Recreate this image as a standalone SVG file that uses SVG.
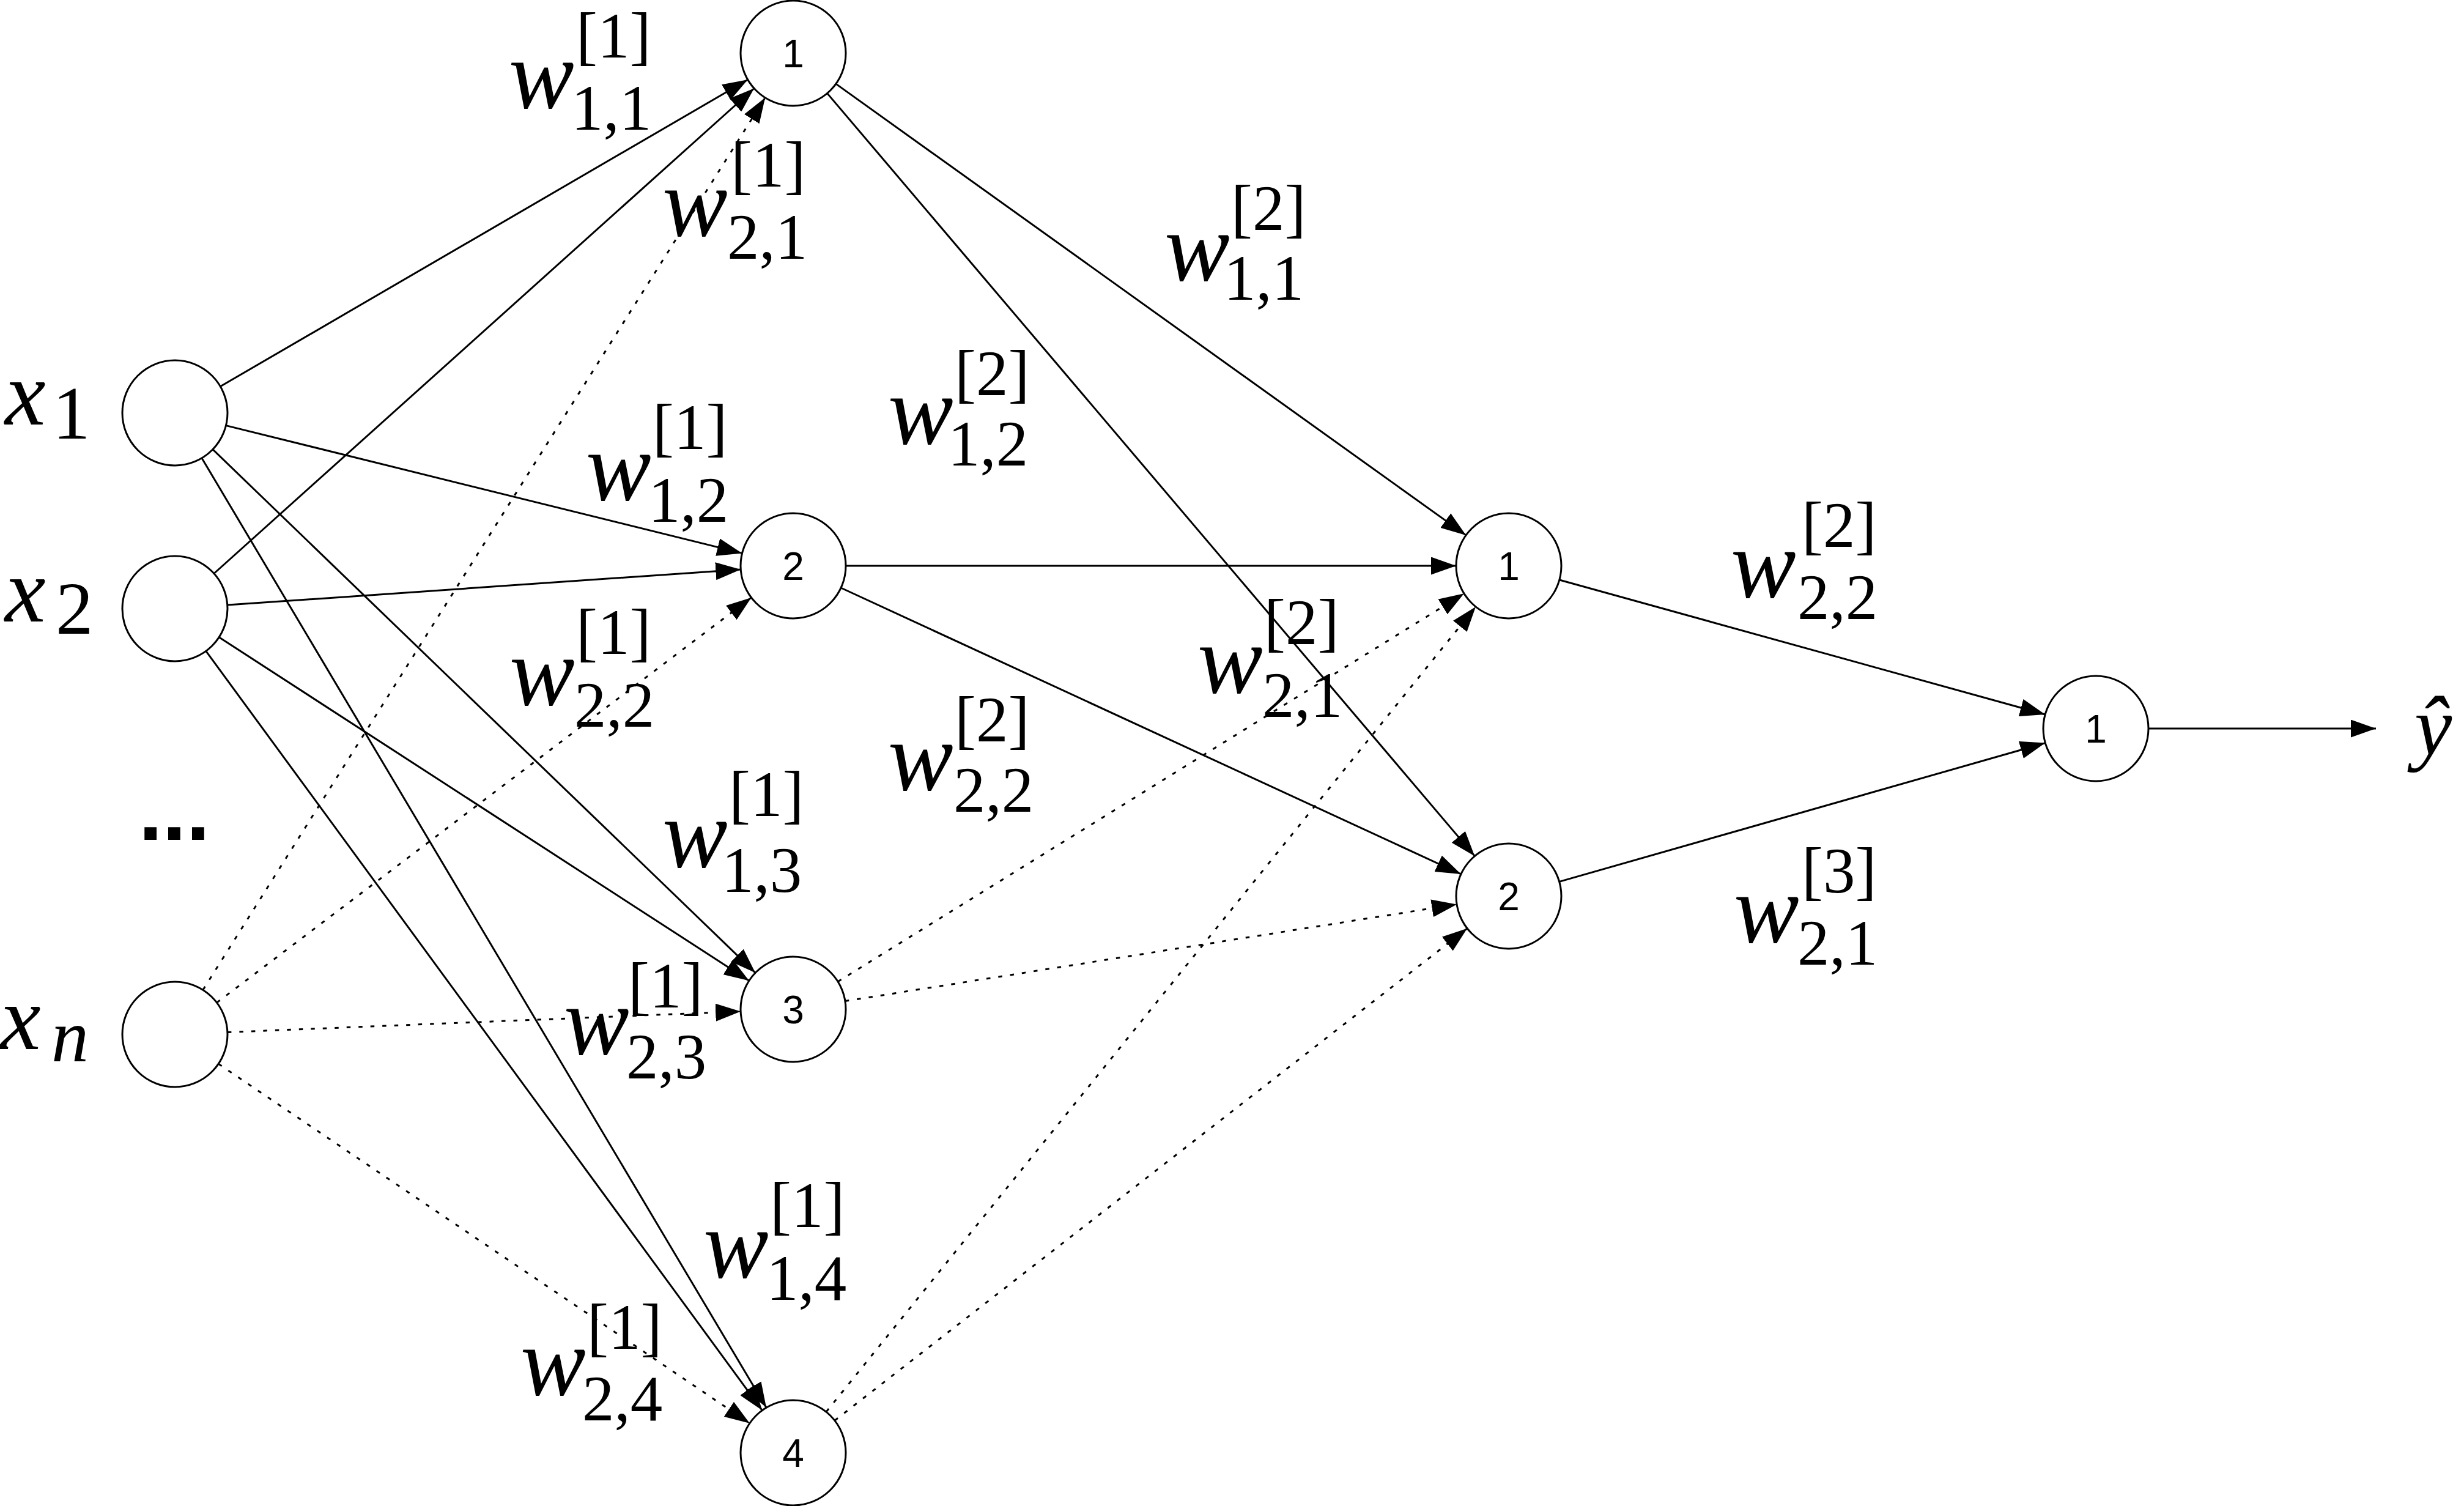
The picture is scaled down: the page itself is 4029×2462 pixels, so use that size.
<svg xmlns="http://www.w3.org/2000/svg" width="4029" height="2462" viewBox="0 0 4029 2462">
<style>
.node{fill:#fff;stroke:#000;stroke-width:3}
.edge{stroke:#000;stroke-width:3;fill:none}
.dot{stroke-dasharray:6.5 13}
.num{font-family:"Liberation Sans",Arial,sans-serif;font-size:64px;text-anchor:middle;fill:#000}
.w{font-family:"Liberation Serif","Times New Roman",serif;font-style:italic;font-size:160px;fill:#000}
.s{font-family:"Liberation Serif","Times New Roman",serif;font-size:105px;fill:#000}
.xl{font-family:"Liberation Serif","Times New Roman",serif;font-style:italic;font-size:150px;fill:#000}
.xs{font-family:"Liberation Serif","Times New Roman",serif;font-size:123px;fill:#000}
.dots{font-family:"Liberation Sans",Arial,sans-serif;font-weight:bold;font-size:140px;text-anchor:middle;fill:#000}
</style>
<defs>
<marker id="arr" markerUnits="userSpaceOnUse" markerWidth="41" markerHeight="29" viewBox="0 0 41 29" refX="41" refY="14.5" orient="auto">
<path d="M0,0 L41,14.5 L0,29 z" fill="#000"/>
</marker>
</defs>
<rect x="0" y="0" width="4029" height="2462" fill="#fff"/>
<g id="connectors">
<line class="edge" x1="360.3" y1="631.8" x2="1222.7" y2="130.2" marker-end="url(#arr)"/>
<line class="edge" x1="369.5" y1="695.6" x2="1213.5" y2="904.4" marker-end="url(#arr)"/>
<line class="edge" x1="347.9" y1="734.7" x2="1235.1" y2="1590.3" marker-end="url(#arr)"/>
<line class="edge" x1="330" y1="748.9" x2="1253" y2="2301.1" marker-end="url(#arr)"/>
<line class="edge" x1="350" y1="937.5" x2="1233" y2="144.5" marker-end="url(#arr)"/>
<line class="edge" x1="371.8" y1="989.1" x2="1211.2" y2="930.9" marker-end="url(#arr)"/>
<line class="edge" x1="358.2" y1="1041.8" x2="1224.8" y2="1603.2" marker-end="url(#arr)"/>
<line class="edge" x1="336.8" y1="1064.4" x2="1246.2" y2="2305.6" marker-end="url(#arr)"/>
<line class="edge dot" x1="331.9" y1="1618.2" x2="1251.1" y2="159.8" marker-end="url(#arr)"/>
<line class="edge dot" x1="354.5" y1="1639.1" x2="1228.5" y2="976.9" marker-end="url(#arr)"/>
<line class="edge dot" x1="371.9" y1="1687.5" x2="1211.1" y2="1653.5" marker-end="url(#arr)"/>
<line class="edge dot" x1="357.2" y1="1739.2" x2="1225.8" y2="2326.8" marker-end="url(#arr)"/>
<line class="edge" x1="1366.9" y1="137.1" x2="2397.1" y2="874.9" marker-end="url(#arr)"/>
<line class="edge" x1="1352.7" y1="152.6" x2="2411.3" y2="1399.4" marker-end="url(#arr)"/>
<line class="edge" x1="1383" y1="925" x2="2381" y2="925" marker-end="url(#arr)"/>
<line class="edge" x1="1375.1" y1="961" x2="2388.9" y2="1429" marker-end="url(#arr)"/>
<line class="edge dot" x1="1370.1" y1="1604.7" x2="2393.9" y2="970.3" marker-end="url(#arr)"/>
<line class="edge dot" x1="1381.9" y1="1636.6" x2="2382.1" y2="1478.4" marker-end="url(#arr)"/>
<line class="edge dot" x1="1351" y1="2308.1" x2="2413" y2="991.9" marker-end="url(#arr)"/>
<line class="edge dot" x1="1364.9" y1="2322.2" x2="2399.1" y2="1517.8" marker-end="url(#arr)"/>
<line class="edge" x1="2549.9" y1="948" x2="3344.1" y2="1168" marker-end="url(#arr)"/>
<line class="edge" x1="2549.7" y1="1441.4" x2="3344.3" y2="1214.6" marker-end="url(#arr)"/>
<line class="edge" x1="3513" y1="1191" x2="3885" y2="1191" marker-end="url(#arr)"/>
</g>
<g id="node-x1"><circle class="node" cx="286" cy="675" r="86"/><text class="xl" x="8" y="694">x</text><text class="xs" x="86" y="717">1</text></g>
<g id="node-x2"><circle class="node" cx="286" cy="995" r="86"/><text class="xl" x="8" y="1016">x</text><text class="xs" x="91" y="1036">2</text></g>
<g id="node-dots"><text class="dots" x="285" y="1373">...</text></g>
<g id="node-xn"><circle class="node" cx="286" cy="1691" r="86"/><text class="xl" x="0" y="1715">x</text><text class="xl" x="84" y="1735" style="font-size:122px">n</text></g>
<g id="node-h1"><circle class="node" cx="1297" cy="87" r="86"/><text class="num" x="1297" y="110">1</text></g>
<g id="node-h2"><circle class="node" cx="1297" cy="925" r="86"/><text class="num" x="1297" y="948">2</text></g>
<g id="node-h3"><circle class="node" cx="1297" cy="1650" r="86"/><text class="num" x="1297" y="1673">3</text></g>
<g id="node-h4"><circle class="node" cx="1297" cy="2375" r="86"/><text class="num" x="1297" y="2398">4</text></g>
<g id="node-o1"><circle class="node" cx="2467" cy="925" r="86"/><text class="num" x="2467" y="948">1</text></g>
<g id="node-o2"><circle class="node" cx="2467" cy="1465" r="86"/><text class="num" x="2467" y="1488">2</text></g>
<g id="node-out"><circle class="node" cx="3427" cy="1191" r="86"/><text class="num" x="3427" y="1214">1</text></g>
<g id="node-yhat"><text class="w" x="3948" y="1234" style="font-size:138px">ŷ</text></g>
<g id="labels">
<g id="w1-11"><text class="w" x="832" y="176">w</text><text class="s" x="942" y="94">[1]</text><text class="s" x="934" y="212">1,1</text></g>
<g id="w1-21"><text class="w" x="1083" y="385">w</text><text class="s" x="1195" y="305">[1]</text><text class="s" x="1189" y="423">2,1</text></g>
<g id="w1-12"><text class="w" x="958" y="817">w</text><text class="s" x="1067" y="734">[1]</text><text class="s" x="1060" y="853">1,2</text></g>
<g id="w1-22"><text class="w" x="833" y="1152">w</text><text class="s" x="942" y="1069">[1]</text><text class="s" x="939" y="1188">2,2</text></g>
<g id="w1-13"><text class="w" x="1083" y="1417">w</text><text class="s" x="1192" y="1334">[1]</text><text class="s" x="1180" y="1458">1,3</text></g>
<g id="w1-23"><text class="w" x="922" y="1723">w</text><text class="s" x="1027" y="1647">[1]</text><text class="s" x="1024" y="1763">2,3</text></g>
<g id="w1-14"><text class="w" x="1150" y="2088">w</text><text class="s" x="1259" y="2006">[1]</text><text class="s" x="1253" y="2125">1,4</text></g>
<g id="w1-24"><text class="w" x="851" y="2280">w</text><text class="s" x="960" y="2205">[1]</text><text class="s" x="952" y="2322">2,4</text></g>
<g id="w2-11"><text class="w" x="1904" y="458">w</text><text class="s" x="2013" y="376">[2]</text><text class="s" x="2001" y="490">1,1</text></g>
<g id="w2-12"><text class="w" x="1452" y="725">w</text><text class="s" x="1561" y="646">[2]</text><text class="s" x="1550" y="761">1,2</text></g>
<g id="w2-21"><text class="w" x="1958" y="1132">w</text><text class="s" x="2067" y="1053">[2]</text><text class="s" x="2064" y="1172">2,1</text></g>
<g id="w2-22a"><text class="w" x="1452" y="1291">w</text><text class="s" x="1561" y="1212">[2]</text><text class="s" x="1559" y="1327">2,2</text></g>
<g id="w2-22b"><text class="w" x="2830" y="976">w</text><text class="s" x="2946" y="894">[2]</text><text class="s" x="2939" y="1012">2,2</text></g>
<g id="w3-21"><text class="w" x="2835" y="1540">w</text><text class="s" x="2946" y="1459">[3]</text><text class="s" x="2939" y="1577">2,1</text></g>
</g>
</svg>
